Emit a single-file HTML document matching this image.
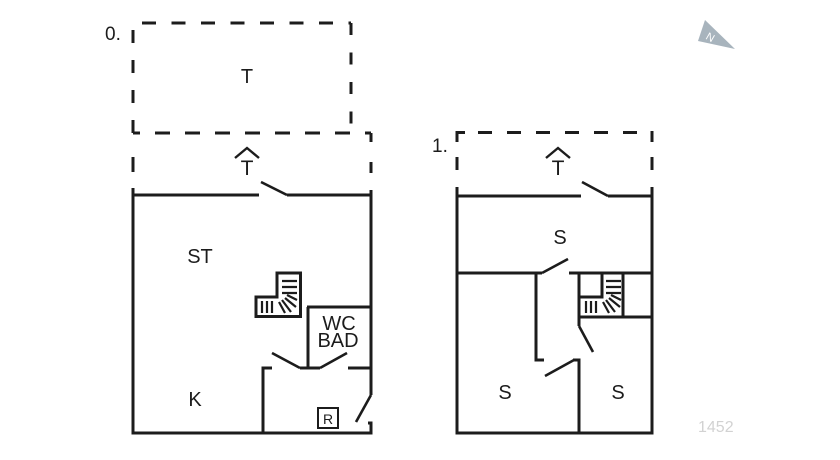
<!DOCTYPE html>
<html>
<head>
<meta charset="utf-8">
<style>
  html, body { margin: 0; padding: 0; background: #ffffff; }
  body { width: 840px; height: 460px; overflow: hidden; }
  svg { display: block; }
  text { font-family: "Liberation Sans", "DejaVu Sans", sans-serif; fill: #1c1c1c; }
</style>
</head>
<body>
<svg width="840" height="460" viewBox="0 0 840 460" xmlns="http://www.w3.org/2000/svg">
  <g fill="none" stroke="#1c1c1c" stroke-width="3" stroke-linecap="butt">
    <!-- ===== Ground floor: upper terrace dashed rect ===== -->
    <path d="M142 23 H351" stroke-dasharray="14 15.5"/>
    <path d="M133 30 V133" stroke-dasharray="13 17"/>
    <path d="M351 23 V125" stroke-dasharray="12 17.5"/>
    <!-- lower dashed -->
    <path d="M133 133 H140"/>
    <path d="M155 133 H371" stroke-dasharray="15 15"/>
    <path d="M371 133 V195" stroke-dasharray="9 20 11 17"/>
    <path d="M133 157 V172"/>
    <path d="M133 188 V195"/>

    <!-- ground floor walls -->
    <path d="M133 195 H259"/>
    <path d="M287 195 H371"/>
    <path d="M133 194 V433 H371 V423 H368"/>
    <path d="M371 194 V395"/>
    <!-- WC -->
    <path d="M308 307 V368"/>
    <path d="M307 307 H371"/>
    <path d="M300 368 H320"/>
    <path d="M348 368 H371"/>
    <path d="M272 368 H263 V433"/>
  </g>
  <!-- doors ground -->
  <g fill="none" stroke="#1c1c1c" stroke-width="2.6" stroke-linecap="butt">
    <path d="M261 182 L287 195"/>
    <path d="M272 353 L300 368"/>
    <path d="M320 368 L347 353"/>
    <path d="M371 395 L356 422"/>
  </g>

  <!-- ground stair -->
  <g fill="none" stroke="#1c1c1c">
    <path d="M277 273 H300.5 V316.5 H256 V297 H277 Z" stroke-width="3"/>
    <g stroke-width="2.2">
      <path d="M282 281 H297 M282 287 H297 M282 293 H297"/>
      <path d="M262 301 V313 M267 301 V313 M272 301 V313"/>
      <path d="M279 302 L285 313 M282 300 L291 312 M285 298 L296 307 M287 295 L297 300"/>
    </g>
  </g>

  <!-- ===== First floor ===== -->
  <g fill="none" stroke="#1c1c1c" stroke-width="3">
    <path d="M457 132.5 H465"/>
    <path d="M478 132.5 H653" stroke-dasharray="14 15"/>
    <path d="M457 131 V142"/>
    <path d="M457 157 V170"/>
    <path d="M457 187 V196"/>
    <path d="M652 131 V142"/>
    <path d="M652 157 V170"/>
    <path d="M652 187 V196"/>

    <path d="M457 196 H581"/>
    <path d="M608 196 H652"/>
    <path d="M457 195 V433 H652 V195"/>
    <!-- middle wall -->
    <path d="M457 273 H542"/>
    <path d="M569 273 H652"/>
    <path d="M536 273 V360 H544"/>
    <path d="M579 273 V326"/>
    <path d="M579 317 H652"/>
    <path d="M602 273 V297 H579"/>
    <path d="M623 273 V317"/>
    <path d="M573 360 H579 V433"/>
  </g>
  <g fill="none" stroke="#1c1c1c" stroke-width="2.6">
    <path d="M582 182 L608 196"/>
    <path d="M542 273 L568 259"/>
    <path d="M579 326 L593 352"/>
    <path d="M545 376 L574 360"/>
  </g>
  <!-- first floor stair steps -->
  <g fill="none" stroke="#1c1c1c" stroke-width="2.2" transform="translate(324,0)">
    <path d="M282 281 H297 M282 287 H297 M282 293 H297"/>
    <path d="M262 301 V313 M267 301 V313 M272 301 V313"/>
    <path d="M279 302 L285 313 M282 300 L291 312 M285 298 L296 307 M287 295 L297 300"/>
  </g>

  <!-- up arrows (carets) -->
  <g fill="none" stroke="#1c1c1c" stroke-width="2.4">
    <path d="M235 158 L247 148 L259 158"/>
    <path d="M546 158 L558 148 L570 158"/>
  </g>

  <!-- R box -->
  <rect x="318" y="408" width="20" height="20" fill="none" stroke="#1c1c1c" stroke-width="2"/>

  <!-- labels -->
  <text x="105" y="40" font-size="19">0.</text>
  <text x="247" y="83" font-size="20" text-anchor="middle">T</text>
  <text x="247" y="175" font-size="21" text-anchor="middle">T</text>
  <text x="200" y="263" font-size="20" text-anchor="middle">ST</text>
  <text x="339" y="330" font-size="20" text-anchor="middle">WC</text>
  <text x="338" y="347" font-size="20" text-anchor="middle">BAD</text>
  <text x="195" y="406" font-size="20" text-anchor="middle">K</text>
  <text x="328" y="424" font-size="14" text-anchor="middle">R</text>

  <text x="432" y="152" font-size="19">1.</text>
  <text x="558" y="175" font-size="21" text-anchor="middle">T</text>
  <text x="560" y="244" font-size="20" text-anchor="middle">S</text>
  <text x="505" y="399" font-size="20" text-anchor="middle">S</text>
  <text x="618" y="399" font-size="20" text-anchor="middle">S</text>

  <!-- north arrow -->
  <polygon points="705,20 698,41 735,49" fill="#a8b4bd"/>
  <text x="707" y="39" font-size="11" fill="#ffffff" style="fill:#ffffff" transform="rotate(30 707 35)">N</text>

  <!-- id -->
  <text x="698" y="432" font-size="16" style="fill:#d2d2d2">1452</text>
</svg>
</body>
</html>
